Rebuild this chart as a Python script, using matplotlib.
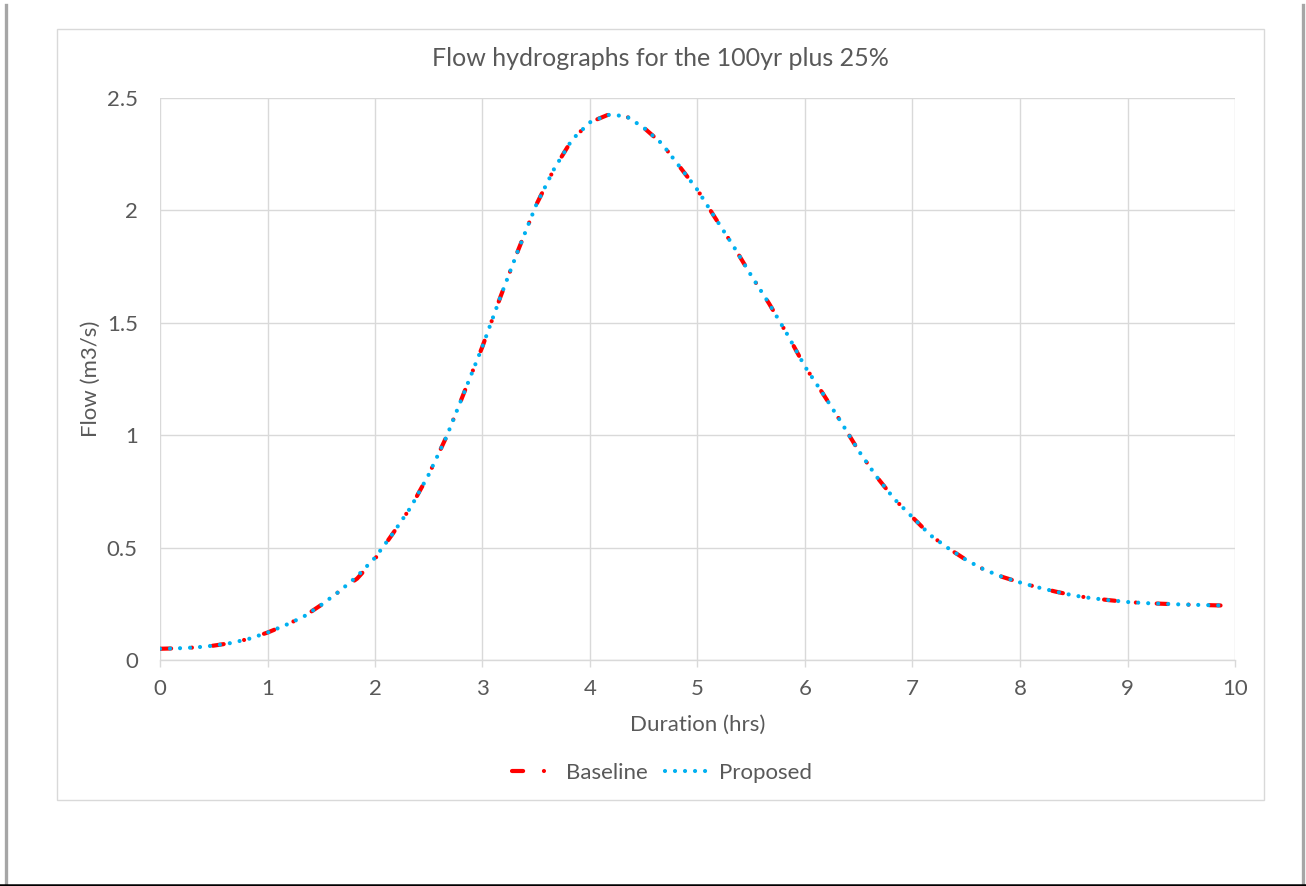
import matplotlib.pyplot as plt
from matplotlib.lines import Line2D
from matplotlib.patches import Rectangle

plt.rcParams["font.family"] = ["Lato", "DejaVu Sans"]
plt.rcParams["lines.scale_dashes"] = False

TEXT = "#595959"
GRID = "#D9D9D9"
RED = "#FF0000"
BLUE = "#00B0F0"

# hydrograph ordinates every 10 minutes, last one at 595 min
minutes = list(range(0, 600, 10)) + [595]
baseline = [
    0.050, 0.052, 0.056, 0.064, 0.076, 0.095, 0.122, 0.155, 0.192, 0.245,
    0.305, 0.362, 0.450, 0.563, 0.680, 0.825, 0.995, 1.195, 1.395, 1.615,
    1.825, 2.025, 2.185, 2.315, 2.392, 2.425, 2.420, 2.368, 2.298, 2.195,
    2.091, 1.965, 1.842, 1.710, 1.585, 1.450, 1.305, 1.185, 1.060, 0.930,
    0.815, 0.715, 0.635, 0.555, 0.497, 0.445, 0.402, 0.370, 0.345, 0.323,
    0.304, 0.287, 0.275, 0.266, 0.258, 0.253, 0.250, 0.247, 0.245, 0.243,
    0.242,
]
proposed = [
    0.050, 0.052, 0.056, 0.064, 0.076, 0.095, 0.122, 0.155, 0.192, 0.245,
    0.305, 0.372, 0.455, 0.563, 0.680, 0.825, 0.995, 1.195, 1.395, 1.615,
    1.825, 2.025, 2.185, 2.315, 2.392, 2.425, 2.420, 2.368, 2.298, 2.195,
    2.091, 1.965, 1.842, 1.710, 1.585, 1.450, 1.305, 1.185, 1.060, 0.930,
    0.815, 0.715, 0.635, 0.555, 0.497, 0.445, 0.402, 0.370, 0.345, 0.323,
    0.304, 0.287, 0.275, 0.266, 0.258, 0.253, 0.250, 0.247, 0.245, 0.243,
    0.242,
]
hours = [m / 60 for m in minutes]
x_ticks = list(range(0, 11))
y_ticks = [0, 0.5, 1, 1.5, 2, 2.5]
y_tick_labels = ["0", "0.5", "1", "1.5", "2", "2.5"]

W, H = 1306, 886
fig = plt.figure(figsize=(W / 100, H / 100), dpi=100)
fig.patch.set_facecolor("white")

# page edges and chart frame
fig.add_artist(Line2D([5.5 / W, 5.5 / W], [0, 1 - 5 / H], color="#A6A6A6", linewidth=2.4))
fig.add_artist(Line2D([1302.5 / W, 1302.5 / W], [0, 1 - 5 / H], color="#A6A6A6", linewidth=2.4))
fig.add_artist(Line2D([0, 1], [1.2 / H, 1.2 / H], color="black", linewidth=1.8))
fig.add_artist(Rectangle((56.5 / W, 1 - 800 / H), (1264 - 56.5) / W, (800 - 28.5) / H,
                         fill=False, edgecolor=GRID, linewidth=1.0))

ax = fig.add_axes([160 / W, 1 - 660 / H, (1235 - 160) / W, (660 - 98) / H])
ax.set_facecolor("none")

ax.plot(hours, baseline, color=RED, linewidth=3.0, dashes=(8, 15, 0.01, 15),
        dash_capstyle="round", solid_capstyle="round", label="Baseline")
ax.plot(hours, proposed, color=BLUE, linewidth=3.0, dashes=(0.01, 7.2),
        dash_capstyle="round", label="Proposed")

ax.set_xlim(0, 10)
ax.set_ylim(0, 2.5)
ax.set_xticks(x_ticks)
ax.set_yticks(y_ticks)
ax.set_yticklabels(y_tick_labels)
ax.grid(True, color=GRID, linewidth=1.0)
ax.set_axisbelow(True)
for side in ["top", "right", "left"]:
    ax.spines[side].set_visible(False)
ax.spines["bottom"].set_color(GRID)
ax.spines["bottom"].set_linewidth(1.0)
ax.tick_params(axis="x", colors=GRID, length=5, width=1.0, labelcolor=TEXT, labelsize=16, pad=9)
ax.tick_params(axis="y", length=0, labelcolor=TEXT, labelsize=16, pad=16)

ax.set_xlabel("Duration (hrs)", color=TEXT, fontsize=16, labelpad=11)
ax.set_ylabel("Flow (m3/s)", color=TEXT, fontsize=16, labelpad=4)

fig.text(660 / W, 1 - 58 / H, "Flow hydrographs for the 100yr plus 25%",
         ha="center", va="center", color=TEXT, fontsize=18)

fig.legend(loc="center", bbox_to_anchor=(662 / W, 1 - 773 / H), ncol=2, frameon=False,
           fontsize=16, labelcolor=TEXT, handlelength=1.9, handletextpad=0.5,
           columnspacing=0.8)

fig.savefig("out.png", dpi=100, facecolor="white")
